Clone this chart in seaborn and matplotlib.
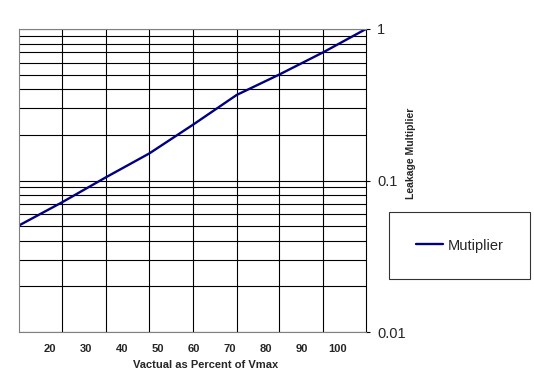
import numpy as np
import pandas as pd
import matplotlib
matplotlib.use("Agg")
import matplotlib.pyplot as plt
import matplotlib.ticker as mticker
import seaborn as sns

# --- Datos ---
vactual_pct = [11.4, 23.3, 35.6, 47.7, 59.9, 72.0, 83.9, 96.1, 108.0]
multiplier = [0.0505, 0.0716, 0.105, 0.151, 0.234, 0.367, 0.501, 0.702, 1.0]
x_ticks = [20, 30, 40, 50, 60, 70, 80, 90, 100]
y_ticks = [0.01, 0.1, 1]
y_tick_labels = ["0.01", "0.1", "1"]

df = pd.DataFrame({"x": vactual_pct, "y": multiplier})

sns.set_theme(style="white")
plt.rcParams["font.family"] = ["Liberation Sans", "DejaVu Sans"]

fig = plt.figure(figsize=(5.34, 3.76), dpi=100)
ax = fig.add_axes([19 / 534, 44 / 376, 347 / 534, 303 / 376])

sns.lineplot(data=df, x="x", y="y", ax=ax, color="#000080", linewidth=1.7,
             label="Mutiplier", legend=False)

ax.set_yscale("log")
ax.set_ylim(0.01, 1)
ax.set_xlim(vactual_pct[0], vactual_pct[-1])

# eje y a la derecha
ax.yaxis.tick_right()
ax.set_yticks(y_ticks)
ax.set_yticklabels(y_tick_labels)
ax.yaxis.set_minor_locator(mticker.LogLocator(base=10, subs=np.arange(2, 10)))
ax.yaxis.set_minor_formatter(mticker.NullFormatter())
ax.tick_params(axis="y", which="major", direction="out", length=3, width=0.8,
               color="black", labelsize=10.5, pad=5, right=True, left=False)
ax.tick_params(axis="y", which="minor", length=0)

# eje x: etiquetas sin marcas, rejilla vertical en los puntos
ax.set_xticks(x_ticks)
ax.set_xticklabels([str(t) for t in x_ticks], fontweight="bold")
ax.set_xticks(vactual_pct[1:-1], minor=True)
ax.tick_params(axis="x", which="both", length=0, labelsize=8, pad=9)

ax.grid(False)
ax.grid(True, axis="y", which="both", color="black", linewidth=0.8)
ax.grid(True, axis="x", which="minor", color="black", linewidth=0.8)

ax.set_xlabel("")
ax.set_ylabel("")
for s in ["left", "top", "bottom"]:
    ax.spines[s].set_color("#808080")
    ax.spines[s].set_linewidth(0.8)
ax.spines["right"].set_color("black")
ax.spines["right"].set_linewidth(0.8)

fig.text(206 / 534, 1 - 365 / 376, "Vactual as Percent of Vmax",
         ha="center", va="center", fontsize=8, fontweight="bold")
fig.text(411 / 534, 1 - 153 / 376, "Leakage Multiplier", rotation=90,
         ha="center", va="center", fontsize=7.5, fontweight="bold")

handles, labels = ax.get_legend_handles_labels()
leg = fig.legend(handles, labels, loc="center",
                 bbox_to_anchor=(459.5 / 534, 1 - 245.5 / 376),
                 fontsize=10.5, frameon=True, fancybox=False, shadow=False,
                 borderpad=1.8, handlelength=1.9, handletextpad=0.3)
leg.get_frame().set_edgecolor("black")
leg.get_frame().set_linewidth(0.8)
leg.get_frame().set_facecolor("white")

fig.savefig("out.png", dpi=100)
